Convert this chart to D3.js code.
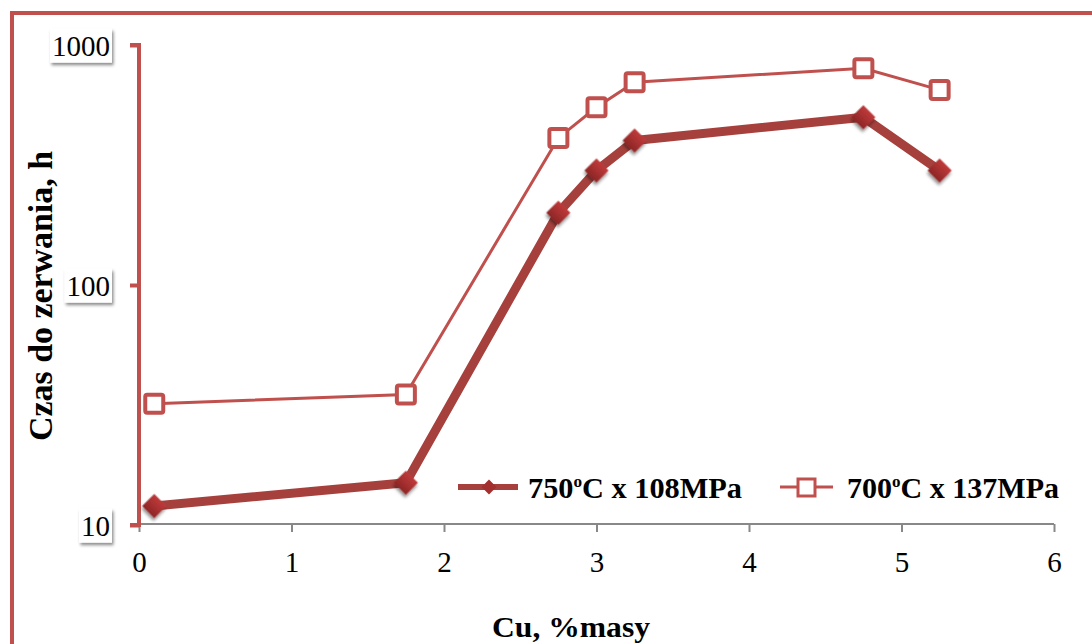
<!DOCTYPE html>
<html lang="pl">
<head>
  <meta charset="UTF-8">
  <title>Czas do zerwania</title>
  <style>
    body { margin: 0; background: #fff; overflow: hidden; }
    svg { display: block; font-family: "Liberation Serif", "Times New Roman", serif; }
  </style>
</head>
<body>
  <script src="https://d3js.org/d3.v7.min.js"></script>
  <script>
    // dane
    const cu = [0.1, 1.75, 2.75, 3, 3.25, 4.75, 5.25];
    const s750 = [12, 15, 200, 300, 400, 500, 300];
    const s700 = [32, 35, 410, 550, 700, 800, 650];
    const xTicks = [0, 1, 2, 3, 4, 5, 6];
    const yTicks = [10, 100, 1000];

    const width = 1092, height = 644;
    const x0 = 139, x1 = 1054, yTop = 45, yBot = 525;
    const serif = "Liberation Serif";

    const svg = d3.select("body").append("svg").attr("width", width).attr("height", height);

    const defs = svg.append("defs");
    const grad = defs.append("linearGradient").attr("id", "dia").attr("x1", 0).attr("y1", 0).attr("x2", 0).attr("y2", 1);
    grad.append("stop").attr("offset", "0%").attr("stop-color", "#c03a3a");
    grad.append("stop").attr("offset", "100%").attr("stop-color", "#8e2626");
    const sh = defs.append("filter").attr("id", "shadow").attr("x", "-50%").attr("y", "-50%").attr("width", "200%").attr("height", "200%");
    sh.append("feDropShadow").attr("dx", 1.5).attr("dy", 2.5).attr("stdDeviation", 1.8).attr("flood-color", "#000").attr("flood-opacity", 0.45);

    // ramka
    svg.append("rect").attr("x", 12).attr("y", 13).attr("width", 1100).attr("height", 660)
      .attr("fill", "none").attr("stroke", "#c0504d").attr("stroke-width", 4);

    const x = d3.scaleLinear().domain([0, 6]).range([x0, x1]);
    const y = d3.scaleLog().domain([10, 1000]).range([yBot, yTop]);

    // oś X
    const xAxis = svg.append("g").attr("transform", `translate(0,${yBot - 1})`)
      .call(d3.axisBottom(x).tickValues(xTicks).tickSize(8).tickFormat(d3.format("d")))
      .attr("font-family", serif).attr("font-size", 29);
    xAxis.select(".domain").attr("stroke", "#888").attr("stroke-width", 2).attr("d", `M${x0},0H${x1}`);
    xAxis.selectAll(".tick line").attr("stroke", "#888").attr("stroke-width", 2);
    xAxis.selectAll(".tick text").attr("fill", "#000").attr("dy", "1.28em");

    // oś Y
    const yAxis = svg.append("g").attr("transform", `translate(${x0},0)`)
      .call(d3.axisLeft(y).tickValues(yTicks).tickSize(9).tickFormat(d3.format("d")))
      .attr("font-family", serif).attr("font-size", 29);
    yAxis.select(".domain").attr("stroke", "#c0504d").attr("stroke-width", 4).attr("d", `M-9,${yTop}H0V${yBot}H-9`);
    yAxis.selectAll(".tick line").attr("stroke", "#c0504d").attr("stroke-width", 4);
    yAxis.selectAll(".tick text").remove();
    yAxis.selectAll(".tick").each(function(d) {
      const g = d3.select(this);
      const t = g.append("text").attr("x", -29).attr("y", 0).attr("dy", "0.35em")
        .attr("text-anchor", "end").attr("fill", "#000").text(d);
      const bb = t.node().getBBox();
      g.insert("rect", "text").attr("x", bb.x - 2).attr("y", bb.y - 1).attr("width", bb.width + 4).attr("height", bb.height + 2)
        .attr("fill", "#fff").attr("filter", "url(#shadow)");
    });

    const pts1 = cu.map((c, i) => [c, s750[i]]);
    const pts2 = cu.map((c, i) => [c, s700[i]]);
    const line = d3.line().x(d => x(d[0])).y(d => y(d[1]));

    // seria 700
    svg.append("path").datum(pts2).attr("d", line).attr("fill", "none")
      .attr("stroke", "#c0504d").attr("stroke-width", 3);
    svg.append("g").selectAll("rect").data(pts2).join("rect")
      .attr("x", d => x(d[0]) - 9).attr("y", d => y(d[1]) - 9).attr("width", 18).attr("height", 18).attr("rx", 2)
      .attr("fill", "#fff").attr("stroke", "#c0504d").attr("stroke-width", 4);

    // seria 750
    svg.append("path").datum(pts1).attr("d", line).attr("fill", "none")
      .attr("stroke", "#a6403d").attr("stroke-width", 9).attr("stroke-linejoin", "round");
    const diamond = d3.symbol().type(d3.symbolSquare).size(290);
    svg.append("g").selectAll("path").data(pts1).join("path")
      .attr("d", diamond)
      .attr("transform", d => `translate(${x(d[0])},${y(d[1])}) rotate(45)`)
      .attr("fill", "url(#dia)").attr("filter", "url(#shadow)");

    // legenda
    const lg = svg.append("g").attr("transform", "translate(458,487)")
      .attr("font-family", serif).attr("font-size", 30).attr("font-weight", "bold");
    lg.append("line").attr("x1", 0).attr("x2", 60).attr("stroke", "#a6403d").attr("stroke-width", 6);
    lg.append("path").attr("d", d3.symbol().type(d3.symbolSquare).size(110)).attr("transform", "translate(31,0) rotate(45)").attr("fill", "#a32f2f");
    lg.append("text").attr("x", 70).attr("y", 11)
      .attr("textLength", 214).attr("lengthAdjust", "spacingAndGlyphs")
      .call(t => { t.append("tspan").text("750"); t.append("tspan").attr("font-size", 17).attr("dy", -11).text("o"); t.append("tspan").attr("dy", 11).text("C x 108MPa"); });
    lg.append("line").attr("x1", 322).attr("x2", 375).attr("stroke", "#c0504d").attr("stroke-width", 3);
    lg.append("rect").attr("x", 340).attr("y", -8).attr("width", 17).attr("height", 17).attr("fill", "#fff").attr("stroke", "#c0504d").attr("stroke-width", 3);
    lg.append("text").attr("x", 389).attr("y", 11)
      .attr("textLength", 212).attr("lengthAdjust", "spacingAndGlyphs")
      .call(t => { t.append("tspan").text("700"); t.append("tspan").attr("font-size", 17).attr("dy", -11).text("o"); t.append("tspan").attr("dy", 11).text("C x 137MPa"); });

    // tytuły osi
    svg.append("text").attr("x", 571).attr("y", 637).attr("text-anchor", "middle")
      .attr("font-family", serif).attr("font-size", 30).attr("font-weight", "bold")
      .attr("textLength", 158).attr("lengthAdjust", "spacingAndGlyphs").text("Cu, %masy");
    svg.append("text").attr("transform", "translate(52,296) rotate(-90)").attr("text-anchor", "middle")
      .attr("font-family", serif).attr("font-size", 33).attr("font-weight", "bold")
      .attr("textLength", 290).attr("lengthAdjust", "spacingAndGlyphs").text("Czas do zerwania, h");
  </script>
</body>
</html>
